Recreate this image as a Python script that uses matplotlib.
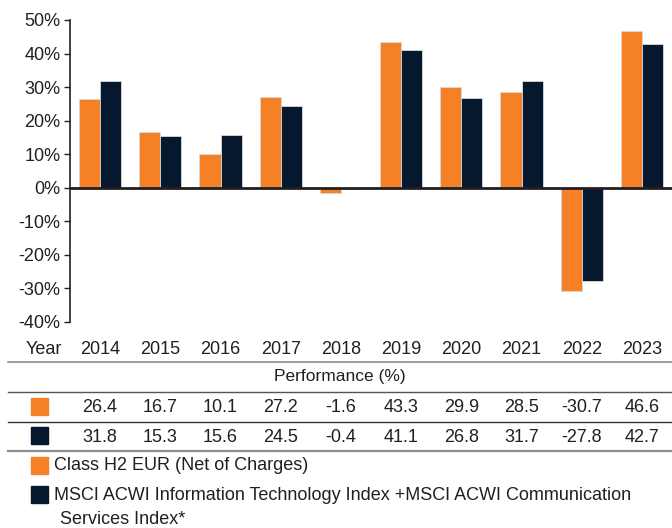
import numpy as np
import matplotlib
matplotlib.use("Agg")
import matplotlib.pyplot as plt
from matplotlib.transforms import blended_transform_factory
from matplotlib.lines import Line2D
from matplotlib.patches import Rectangle

years = ["2014", "2015", "2016", "2017", "2018", "2019", "2020", "2021", "2022", "2023"]
fund = [26.4, 16.7, 10.1, 27.2, -1.6, 43.3, 29.9, 28.5, -30.7, 46.6]
index = [31.8, 15.3, 15.6, 24.5, -0.4, 41.1, 26.8, 31.7, -27.8, 42.7]
yticks = [-40, -30, -20, -10, 0, 10, 20, 30, 40, 50]
fund_label = "Class H2 EUR (Net of Charges)"
index_label = "MSCI ACWI Information Technology Index +MSCI ACWI Communication"
index_label2 = "Services Index*"

ORANGE = "#F58025"
NAVY = "#06182E"
TXT = "#231F20"
W, H = 672, 528

plt.rcParams["font.family"] = ["Liberation Sans", "DejaVu Sans"]
plt.rcParams["font.size"] = 13

fig = plt.figure(figsize=(W / 100, H / 100), dpi=100)


def fy(py):
    return 1 - py / H


def fx(px):
    return px / W


ax = fig.add_axes([fx(70), fy(322), fx(672) - fx(70), fy(20) - fy(322)])
x = np.arange(len(years))
bw = 0.35
ax.bar(x - bw / 2, fund, bw, color=ORANGE, edgecolor="#d9d9d9", linewidth=0.6, zorder=2)
ax.bar(x + bw / 2, index, bw, color=NAVY, edgecolor="#d9d9d9", linewidth=0.6, zorder=2)
ax.axhline(0, color=TXT, linewidth=2, zorder=3)

ax.set_xlim(-0.5, len(years) - 0.5)
ax.set_ylim(-40, 50)
ax.set_yticks(yticks)
ax.set_yticklabels([f"{t}%" for t in yticks], color=TXT)
ax.set_xticks([])
for s in ["top", "right", "bottom"]:
    ax.spines[s].set_visible(False)
ax.spines["left"].set_color(TXT)
ax.spines["left"].set_linewidth(1.2)
ax.tick_params(axis="y", length=4, width=1, color=TXT, pad=3)

# table below the chart: x in data coords, y in figure coords
tr = blended_transform_factory(ax.transData, fig.transFigure)
fig.text(fx(44), fy(349), "Year", ha="center", va="center", color=TXT)
for i, yr in enumerate(years):
    fig.text(i, fy(349), yr, ha="center", va="center", color=TXT, transform=tr)
    fig.text(i, fy(407), f"{fund[i]:.1f}", ha="center", va="center", color=TXT, transform=tr)
    fig.text(i, fy(437), f"{index[i]:.1f}", ha="center", va="center", color=TXT, transform=tr)
fig.text(fx(340), fy(377), "Performance (%)", ha="center", va="center", color=TXT, fontsize=12.5)

for py, c, lw in [(362, "#8c8c8c", 1.2), (392, "#555555", 1.0), (422, "#333333", 1.0), (451, "#8c8c8c", 1.6)]:
    fig.add_artist(Line2D([fx(8), 1], [fy(py), fy(py)], color=c, linewidth=lw))

sq = 17
for py, c in [(398, ORANGE), (427, NAVY), (457, ORANGE), (486, NAVY)]:
    fig.add_artist(Rectangle((fx(31), fy(py + sq)), sq / W, sq / H, color=c))

fig.text(fx(54), fy(466), fund_label, ha="left", va="center", color=TXT)
fig.text(fx(54), fy(496), index_label, ha="left", va="center", color=TXT)
fig.text(fx(60), fy(520), index_label2, ha="left", va="center", color=TXT)

fig.savefig("out.png", dpi=100)
